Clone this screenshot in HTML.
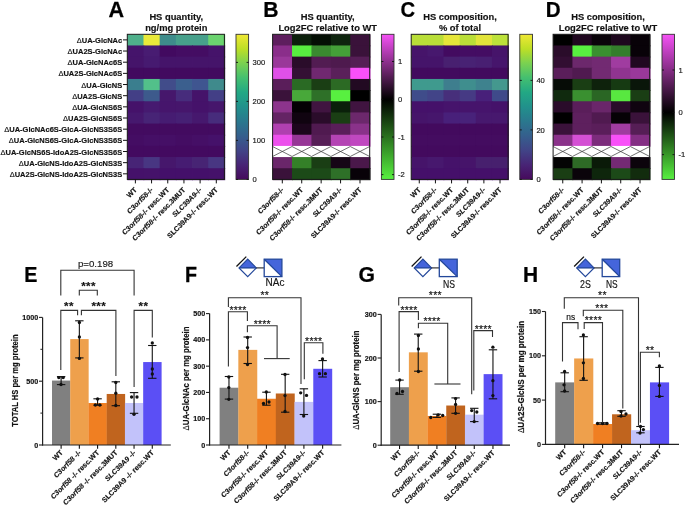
<!DOCTYPE html>
<html><head><meta charset="utf-8"><style>
html,body{margin:0;padding:0;background:#fff;}
body{width:685px;height:506px;overflow:hidden;}
svg{display:block;will-change:transform;}
svg text{font-family:"Liberation Sans", sans-serif;stroke:#151515;stroke-width:0.16px;}
</style></head><body>
<svg width="685" height="506" viewBox="0 0 685 506">
<rect x="0" y="0" width="685" height="506" fill="#fff"/>
<text transform="translate(108.6,16.7) scale(0.96,1)" font-size="22.5" font-weight="bold" fill="#000" style="stroke:#000;stroke-width:0.25px">A</text>
<text transform="translate(263.3,16.7) scale(0.94,1)" font-size="22.5" font-weight="bold" fill="#000" style="stroke:#000;stroke-width:0.25px">B</text>
<text transform="translate(400.4,16.7) scale(0.9,1)" font-size="22.5" font-weight="bold" fill="#000" style="stroke:#000;stroke-width:0.25px">C</text>
<text transform="translate(545.7,16.7) scale(0.915,1)" font-size="22.5" font-weight="bold" fill="#000" style="stroke:#000;stroke-width:0.25px">D</text>
<text transform="translate(24.3,281.8) scale(0.876,1)" font-size="22.5" font-weight="bold" fill="#000" style="stroke:#000;stroke-width:0.25px">E</text>
<text transform="translate(184.9,281.9) scale(0.875,1)" font-size="22.5" font-weight="bold" fill="#000" style="stroke:#000;stroke-width:0.25px">F</text>
<text transform="translate(358.5,281.7) scale(0.94,1)" font-size="22.5" font-weight="bold" fill="#000" style="stroke:#000;stroke-width:0.25px">G</text>
<text transform="translate(523.0,281.9) scale(0.93,1)" font-size="22.5" font-weight="bold" fill="#000" style="stroke:#000;stroke-width:0.25px">H</text>
<text x="176.30" y="20.30" font-size="9.35" font-weight="bold" font-style="normal" text-anchor="middle" fill="#111" >HS quantity,</text>
<text x="176.30" y="31.00" font-size="9.35" font-weight="bold" font-style="normal" text-anchor="middle" fill="#111" >ng/mg protein</text>
<text x="327.70" y="20.30" font-size="9.35" font-weight="bold" font-style="normal" text-anchor="middle" fill="#111" >HS quantity,</text>
<text x="327.70" y="31.00" font-size="9.35" font-weight="bold" font-style="normal" text-anchor="middle" fill="#111" >Log2FC relative to WT</text>
<text x="460.00" y="20.30" font-size="9.35" font-weight="bold" font-style="normal" text-anchor="middle" fill="#111" >HS composition,</text>
<text x="460.00" y="31.00" font-size="9.35" font-weight="bold" font-style="normal" text-anchor="middle" fill="#111" >% of total</text>
<text x="608.00" y="20.30" font-size="9.35" font-weight="bold" font-style="normal" text-anchor="middle" fill="#111" >HS composition,</text>
<text x="608.00" y="31.00" font-size="9.35" font-weight="bold" font-style="normal" text-anchor="middle" fill="#111" >Log2FC relative to WT</text>
<rect x="127.30" y="34.30" width="16.98" height="11.96" fill="#4fb08b" stroke="none" stroke-width="0"/>
<rect x="143.48" y="34.30" width="16.98" height="11.96" fill="#eaea3a" stroke="none" stroke-width="0"/>
<rect x="159.67" y="34.30" width="16.98" height="11.96" fill="#3e8c8b" stroke="none" stroke-width="0"/>
<rect x="175.85" y="34.30" width="16.98" height="11.96" fill="#47a08b" stroke="none" stroke-width="0"/>
<rect x="192.03" y="34.30" width="16.98" height="11.96" fill="#47a08b" stroke="none" stroke-width="0"/>
<rect x="208.22" y="34.30" width="16.98" height="11.96" fill="#6bd36f" stroke="none" stroke-width="0"/>
<rect x="127.30" y="45.46" width="16.98" height="11.96" fill="#45146b" stroke="none" stroke-width="0"/>
<rect x="143.48" y="45.46" width="16.98" height="11.96" fill="#481c72" stroke="none" stroke-width="0"/>
<rect x="159.67" y="45.46" width="16.98" height="11.96" fill="#420a60" stroke="none" stroke-width="0"/>
<rect x="175.85" y="45.46" width="16.98" height="11.96" fill="#440d63" stroke="none" stroke-width="0"/>
<rect x="192.03" y="45.46" width="16.98" height="11.96" fill="#440d63" stroke="none" stroke-width="0"/>
<rect x="208.22" y="45.46" width="16.98" height="11.96" fill="#45136a" stroke="none" stroke-width="0"/>
<rect x="127.30" y="56.62" width="16.98" height="11.96" fill="#45146a" stroke="none" stroke-width="0"/>
<rect x="143.48" y="56.62" width="16.98" height="11.96" fill="#461a70" stroke="none" stroke-width="0"/>
<rect x="159.67" y="56.62" width="16.98" height="11.96" fill="#45146a" stroke="none" stroke-width="0"/>
<rect x="175.85" y="56.62" width="16.98" height="11.96" fill="#45146a" stroke="none" stroke-width="0"/>
<rect x="192.03" y="56.62" width="16.98" height="11.96" fill="#45146a" stroke="none" stroke-width="0"/>
<rect x="208.22" y="56.62" width="16.98" height="11.96" fill="#45146a" stroke="none" stroke-width="0"/>
<rect x="127.30" y="67.78" width="16.98" height="11.96" fill="#420a5f" stroke="none" stroke-width="0"/>
<rect x="143.48" y="67.78" width="16.98" height="11.96" fill="#420a5f" stroke="none" stroke-width="0"/>
<rect x="159.67" y="67.78" width="16.98" height="11.96" fill="#420a5f" stroke="none" stroke-width="0"/>
<rect x="175.85" y="67.78" width="16.98" height="11.96" fill="#420a5f" stroke="none" stroke-width="0"/>
<rect x="192.03" y="67.78" width="16.98" height="11.96" fill="#420a5f" stroke="none" stroke-width="0"/>
<rect x="208.22" y="67.78" width="16.98" height="11.96" fill="#420a5f" stroke="none" stroke-width="0"/>
<rect x="127.30" y="78.95" width="16.98" height="11.96" fill="#3a7e8e" stroke="none" stroke-width="0"/>
<rect x="143.48" y="78.95" width="16.98" height="11.96" fill="#52c08a" stroke="none" stroke-width="0"/>
<rect x="159.67" y="78.95" width="16.98" height="11.96" fill="#414c8a" stroke="none" stroke-width="0"/>
<rect x="175.85" y="78.95" width="16.98" height="11.96" fill="#3b5f8e" stroke="none" stroke-width="0"/>
<rect x="192.03" y="78.95" width="16.98" height="11.96" fill="#3f5590" stroke="none" stroke-width="0"/>
<rect x="208.22" y="78.95" width="16.98" height="11.96" fill="#3f8a8c" stroke="none" stroke-width="0"/>
<rect x="127.30" y="90.11" width="16.98" height="11.96" fill="#433f86" stroke="none" stroke-width="0"/>
<rect x="143.48" y="90.11" width="16.98" height="11.96" fill="#3d5a8c" stroke="none" stroke-width="0"/>
<rect x="159.67" y="90.11" width="16.98" height="11.96" fill="#46176c" stroke="none" stroke-width="0"/>
<rect x="175.85" y="90.11" width="16.98" height="11.96" fill="#472c7c" stroke="none" stroke-width="0"/>
<rect x="192.03" y="90.11" width="16.98" height="11.96" fill="#45136a" stroke="none" stroke-width="0"/>
<rect x="208.22" y="90.11" width="16.98" height="11.96" fill="#433f86" stroke="none" stroke-width="0"/>
<rect x="127.30" y="101.27" width="16.98" height="11.96" fill="#45126a" stroke="none" stroke-width="0"/>
<rect x="143.48" y="101.27" width="16.98" height="11.96" fill="#461a70" stroke="none" stroke-width="0"/>
<rect x="159.67" y="101.27" width="16.98" height="11.96" fill="#46156c" stroke="none" stroke-width="0"/>
<rect x="175.85" y="101.27" width="16.98" height="11.96" fill="#46166c" stroke="none" stroke-width="0"/>
<rect x="192.03" y="101.27" width="16.98" height="11.96" fill="#45126a" stroke="none" stroke-width="0"/>
<rect x="208.22" y="101.27" width="16.98" height="11.96" fill="#46166c" stroke="none" stroke-width="0"/>
<rect x="127.30" y="112.43" width="16.98" height="11.96" fill="#46186e" stroke="none" stroke-width="0"/>
<rect x="143.48" y="112.43" width="16.98" height="11.96" fill="#472476" stroke="none" stroke-width="0"/>
<rect x="159.67" y="112.43" width="16.98" height="11.96" fill="#461c72" stroke="none" stroke-width="0"/>
<rect x="175.85" y="112.43" width="16.98" height="11.96" fill="#462074" stroke="none" stroke-width="0"/>
<rect x="192.03" y="112.43" width="16.98" height="11.96" fill="#46186e" stroke="none" stroke-width="0"/>
<rect x="208.22" y="112.43" width="16.98" height="11.96" fill="#472c7c" stroke="none" stroke-width="0"/>
<rect x="127.30" y="123.59" width="16.98" height="11.96" fill="#430b60" stroke="none" stroke-width="0"/>
<rect x="143.48" y="123.59" width="16.98" height="11.96" fill="#430b60" stroke="none" stroke-width="0"/>
<rect x="159.67" y="123.59" width="16.98" height="11.96" fill="#430b60" stroke="none" stroke-width="0"/>
<rect x="175.85" y="123.59" width="16.98" height="11.96" fill="#430b60" stroke="none" stroke-width="0"/>
<rect x="192.03" y="123.59" width="16.98" height="11.96" fill="#430b60" stroke="none" stroke-width="0"/>
<rect x="208.22" y="123.59" width="16.98" height="11.96" fill="#430b60" stroke="none" stroke-width="0"/>
<rect x="127.30" y="134.75" width="16.98" height="11.96" fill="#440d63" stroke="none" stroke-width="0"/>
<rect x="143.48" y="134.75" width="16.98" height="11.96" fill="#450f66" stroke="none" stroke-width="0"/>
<rect x="159.67" y="134.75" width="16.98" height="11.96" fill="#450f66" stroke="none" stroke-width="0"/>
<rect x="175.85" y="134.75" width="16.98" height="11.96" fill="#440d63" stroke="none" stroke-width="0"/>
<rect x="192.03" y="134.75" width="16.98" height="11.96" fill="#450f66" stroke="none" stroke-width="0"/>
<rect x="208.22" y="134.75" width="16.98" height="11.96" fill="#45116a" stroke="none" stroke-width="0"/>
<rect x="127.30" y="145.92" width="16.98" height="11.96" fill="#430a60" stroke="none" stroke-width="0"/>
<rect x="143.48" y="145.92" width="16.98" height="11.96" fill="#430a60" stroke="none" stroke-width="0"/>
<rect x="159.67" y="145.92" width="16.98" height="11.96" fill="#430a60" stroke="none" stroke-width="0"/>
<rect x="175.85" y="145.92" width="16.98" height="11.96" fill="#430a60" stroke="none" stroke-width="0"/>
<rect x="192.03" y="145.92" width="16.98" height="11.96" fill="#430a60" stroke="none" stroke-width="0"/>
<rect x="208.22" y="145.92" width="16.98" height="11.96" fill="#430a60" stroke="none" stroke-width="0"/>
<rect x="127.30" y="157.08" width="16.98" height="11.96" fill="#472476" stroke="none" stroke-width="0"/>
<rect x="143.48" y="157.08" width="16.98" height="11.96" fill="#483682" stroke="none" stroke-width="0"/>
<rect x="159.67" y="157.08" width="16.98" height="11.96" fill="#46176c" stroke="none" stroke-width="0"/>
<rect x="175.85" y="157.08" width="16.98" height="11.96" fill="#461c72" stroke="none" stroke-width="0"/>
<rect x="192.03" y="157.08" width="16.98" height="11.96" fill="#472474" stroke="none" stroke-width="0"/>
<rect x="208.22" y="157.08" width="16.98" height="11.96" fill="#483682" stroke="none" stroke-width="0"/>
<rect x="127.30" y="168.24" width="16.98" height="11.96" fill="#45116a" stroke="none" stroke-width="0"/>
<rect x="143.48" y="168.24" width="16.98" height="11.96" fill="#45126a" stroke="none" stroke-width="0"/>
<rect x="159.67" y="168.24" width="16.98" height="11.96" fill="#44106a" stroke="none" stroke-width="0"/>
<rect x="175.85" y="168.24" width="16.98" height="11.96" fill="#44106a" stroke="none" stroke-width="0"/>
<rect x="192.03" y="168.24" width="16.98" height="11.96" fill="#44106a" stroke="none" stroke-width="0"/>
<rect x="208.22" y="168.24" width="16.98" height="11.96" fill="#45116a" stroke="none" stroke-width="0"/>
<rect x="127.30" y="34.30" width="97.10" height="145.10" fill="none" stroke="#1a1a1a" stroke-width="1"/>
<line x1="135.39" y1="179.40" x2="135.39" y2="183.40" stroke="#111" stroke-width="1.0"/>
<text transform="translate(137.39,190.40) rotate(-45)" font-size="7.2" font-weight="bold" text-anchor="end" fill="#111">WT</text>
<line x1="151.57" y1="179.40" x2="151.57" y2="183.40" stroke="#111" stroke-width="1.0"/>
<text transform="translate(153.57,190.40) rotate(-45)" font-size="7.2" font-weight="bold" text-anchor="end" fill="#111"><tspan font-style="italic">C3orf58</tspan>-/-</text>
<line x1="167.76" y1="179.40" x2="167.76" y2="183.40" stroke="#111" stroke-width="1.0"/>
<text transform="translate(169.76,190.40) rotate(-45)" font-size="7.2" font-weight="bold" text-anchor="end" fill="#111"><tspan font-style="italic">C3orf58</tspan>-/- resc.WT</text>
<line x1="183.94" y1="179.40" x2="183.94" y2="183.40" stroke="#111" stroke-width="1.0"/>
<text transform="translate(185.94,190.40) rotate(-45)" font-size="7.2" font-weight="bold" text-anchor="end" fill="#111"><tspan font-style="italic">C3orf58</tspan>-/- resc.3MUT</text>
<line x1="200.12" y1="179.40" x2="200.12" y2="183.40" stroke="#111" stroke-width="1.0"/>
<text transform="translate(202.12,190.40) rotate(-45)" font-size="7.2" font-weight="bold" text-anchor="end" fill="#111"><tspan font-style="italic">SLC39A9</tspan>-/-</text>
<line x1="216.31" y1="179.40" x2="216.31" y2="183.40" stroke="#111" stroke-width="1.0"/>
<text transform="translate(218.31,190.40) rotate(-45)" font-size="7.2" font-weight="bold" text-anchor="end" fill="#111">SLC39A9-/- resc.WT</text>
<rect x="272.60" y="34.30" width="20.22" height="11.96" fill="#5e1e5e" stroke="none" stroke-width="0"/>
<rect x="292.02" y="34.30" width="20.22" height="11.96" fill="#0c200c" stroke="none" stroke-width="0"/>
<rect x="311.44" y="34.30" width="20.22" height="11.96" fill="#040e04" stroke="none" stroke-width="0"/>
<rect x="330.86" y="34.30" width="20.22" height="11.96" fill="#0e240e" stroke="none" stroke-width="0"/>
<rect x="350.28" y="34.30" width="20.22" height="11.96" fill="#3a123a" stroke="none" stroke-width="0"/>
<rect x="272.60" y="45.46" width="20.22" height="11.96" fill="#8a2e8a" stroke="none" stroke-width="0"/>
<rect x="292.02" y="45.46" width="20.22" height="11.96" fill="#58ee40" stroke="none" stroke-width="0"/>
<rect x="311.44" y="45.46" width="20.22" height="11.96" fill="#3a8a30" stroke="none" stroke-width="0"/>
<rect x="330.86" y="45.46" width="20.22" height="11.96" fill="#44a038" stroke="none" stroke-width="0"/>
<rect x="350.28" y="45.46" width="20.22" height="11.96" fill="#3a123a" stroke="none" stroke-width="0"/>
<rect x="272.60" y="56.62" width="20.22" height="11.96" fill="#9a389a" stroke="none" stroke-width="0"/>
<rect x="292.02" y="56.62" width="20.22" height="11.96" fill="#2a0c2a" stroke="none" stroke-width="0"/>
<rect x="311.44" y="56.62" width="20.22" height="11.96" fill="#521c52" stroke="none" stroke-width="0"/>
<rect x="330.86" y="56.62" width="20.22" height="11.96" fill="#4e1a4e" stroke="none" stroke-width="0"/>
<rect x="350.28" y="56.62" width="20.22" height="11.96" fill="#561e56" stroke="none" stroke-width="0"/>
<rect x="272.60" y="67.78" width="20.22" height="11.96" fill="#e050e8" stroke="none" stroke-width="0"/>
<rect x="292.02" y="67.78" width="20.22" height="11.96" fill="#341034" stroke="none" stroke-width="0"/>
<rect x="311.44" y="67.78" width="20.22" height="11.96" fill="#702870" stroke="none" stroke-width="0"/>
<rect x="330.86" y="67.78" width="20.22" height="11.96" fill="#5a205a" stroke="none" stroke-width="0"/>
<rect x="350.28" y="67.78" width="20.22" height="11.96" fill="#f850f8" stroke="none" stroke-width="0"/>
<rect x="272.60" y="78.95" width="20.22" height="11.96" fill="#5a1e5a" stroke="none" stroke-width="0"/>
<rect x="292.02" y="78.95" width="20.22" height="11.96" fill="#2a6a24" stroke="none" stroke-width="0"/>
<rect x="311.44" y="78.95" width="20.22" height="11.96" fill="#1a3e14" stroke="none" stroke-width="0"/>
<rect x="330.86" y="78.95" width="20.22" height="11.96" fill="#2c6a24" stroke="none" stroke-width="0"/>
<rect x="350.28" y="78.95" width="20.22" height="11.96" fill="#220a22" stroke="none" stroke-width="0"/>
<rect x="272.60" y="90.11" width="20.22" height="11.96" fill="#3a123a" stroke="none" stroke-width="0"/>
<rect x="292.02" y="90.11" width="20.22" height="11.96" fill="#48a83a" stroke="none" stroke-width="0"/>
<rect x="311.44" y="90.11" width="20.22" height="11.96" fill="#2e7028" stroke="none" stroke-width="0"/>
<rect x="330.86" y="90.11" width="20.22" height="11.96" fill="#58f040" stroke="none" stroke-width="0"/>
<rect x="350.28" y="90.11" width="20.22" height="11.96" fill="#000000" stroke="none" stroke-width="0"/>
<rect x="272.60" y="101.27" width="20.22" height="11.96" fill="#8c348c" stroke="none" stroke-width="0"/>
<rect x="292.02" y="101.27" width="20.22" height="11.96" fill="#040004" stroke="none" stroke-width="0"/>
<rect x="311.44" y="101.27" width="20.22" height="11.96" fill="#401440" stroke="none" stroke-width="0"/>
<rect x="330.86" y="101.27" width="20.22" height="11.96" fill="#0a200a" stroke="none" stroke-width="0"/>
<rect x="350.28" y="101.27" width="20.22" height="11.96" fill="#401440" stroke="none" stroke-width="0"/>
<rect x="272.60" y="112.43" width="20.22" height="11.96" fill="#642464" stroke="none" stroke-width="0"/>
<rect x="292.02" y="112.43" width="20.22" height="11.96" fill="#100410" stroke="none" stroke-width="0"/>
<rect x="311.44" y="112.43" width="20.22" height="11.96" fill="#2a0c2a" stroke="none" stroke-width="0"/>
<rect x="330.86" y="112.43" width="20.22" height="11.96" fill="#1a3e14" stroke="none" stroke-width="0"/>
<rect x="350.28" y="112.43" width="20.22" height="11.96" fill="#6c286c" stroke="none" stroke-width="0"/>
<rect x="272.60" y="123.59" width="20.22" height="11.96" fill="#b040b0" stroke="none" stroke-width="0"/>
<rect x="292.02" y="123.59" width="20.22" height="11.96" fill="#1c061c" stroke="none" stroke-width="0"/>
<rect x="311.44" y="123.59" width="20.22" height="11.96" fill="#501a50" stroke="none" stroke-width="0"/>
<rect x="330.86" y="123.59" width="20.22" height="11.96" fill="#5a1e5a" stroke="none" stroke-width="0"/>
<rect x="350.28" y="123.59" width="20.22" height="11.96" fill="#8a328a" stroke="none" stroke-width="0"/>
<rect x="272.60" y="134.75" width="20.22" height="11.96" fill="#ec50ec" stroke="none" stroke-width="0"/>
<rect x="292.02" y="134.75" width="20.22" height="11.96" fill="#963696" stroke="none" stroke-width="0"/>
<rect x="311.44" y="134.75" width="20.22" height="11.96" fill="#561e56" stroke="none" stroke-width="0"/>
<rect x="330.86" y="134.75" width="20.22" height="11.96" fill="#b444b4" stroke="none" stroke-width="0"/>
<rect x="350.28" y="134.75" width="20.22" height="11.96" fill="#c048c0" stroke="none" stroke-width="0"/>
<rect x="272.60" y="145.92" width="97.10" height="11.16" fill="#ffffff" stroke="none" stroke-width="0"/>
<line x1="272.60" y1="146.52" x2="292.02" y2="156.48" stroke="#333" stroke-width="0.7"/>
<line x1="272.60" y1="156.48" x2="292.02" y2="146.52" stroke="#333" stroke-width="0.7"/>
<line x1="292.02" y1="146.52" x2="311.44" y2="156.48" stroke="#333" stroke-width="0.7"/>
<line x1="292.02" y1="156.48" x2="311.44" y2="146.52" stroke="#333" stroke-width="0.7"/>
<line x1="311.44" y1="146.52" x2="330.86" y2="156.48" stroke="#333" stroke-width="0.7"/>
<line x1="311.44" y1="156.48" x2="330.86" y2="146.52" stroke="#333" stroke-width="0.7"/>
<line x1="330.86" y1="146.52" x2="350.28" y2="156.48" stroke="#333" stroke-width="0.7"/>
<line x1="330.86" y1="156.48" x2="350.28" y2="146.52" stroke="#333" stroke-width="0.7"/>
<line x1="350.28" y1="146.52" x2="369.70" y2="156.48" stroke="#333" stroke-width="0.7"/>
<line x1="350.28" y1="156.48" x2="369.70" y2="146.52" stroke="#333" stroke-width="0.7"/>
<rect x="272.60" y="157.08" width="20.22" height="11.96" fill="#6a266a" stroke="none" stroke-width="0"/>
<rect x="292.02" y="157.08" width="20.22" height="11.96" fill="#348028" stroke="none" stroke-width="0"/>
<rect x="311.44" y="157.08" width="20.22" height="11.96" fill="#1a3e14" stroke="none" stroke-width="0"/>
<rect x="330.86" y="157.08" width="20.22" height="11.96" fill="#160616" stroke="none" stroke-width="0"/>
<rect x="350.28" y="157.08" width="20.22" height="11.96" fill="#4a184a" stroke="none" stroke-width="0"/>
<rect x="272.60" y="168.24" width="20.22" height="11.96" fill="#3a123a" stroke="none" stroke-width="0"/>
<rect x="292.02" y="168.24" width="20.22" height="11.96" fill="#1c4a18" stroke="none" stroke-width="0"/>
<rect x="311.44" y="168.24" width="20.22" height="11.96" fill="#1c4a18" stroke="none" stroke-width="0"/>
<rect x="330.86" y="168.24" width="20.22" height="11.96" fill="#2e7028" stroke="none" stroke-width="0"/>
<rect x="350.28" y="168.24" width="20.22" height="11.96" fill="#080208" stroke="none" stroke-width="0"/>
<rect x="272.60" y="34.30" width="97.10" height="145.10" fill="none" stroke="#1a1a1a" stroke-width="1"/>
<line x1="282.31" y1="179.40" x2="282.31" y2="183.40" stroke="#111" stroke-width="1.0"/>
<text transform="translate(284.31,190.40) rotate(-45)" font-size="7.2" font-weight="bold" text-anchor="end" fill="#111"><tspan font-style="italic">C3orf58</tspan>-/-</text>
<line x1="301.73" y1="179.40" x2="301.73" y2="183.40" stroke="#111" stroke-width="1.0"/>
<text transform="translate(303.73,190.40) rotate(-45)" font-size="7.2" font-weight="bold" text-anchor="end" fill="#111"><tspan font-style="italic">C3orf58</tspan>-/- resc.WT</text>
<line x1="321.15" y1="179.40" x2="321.15" y2="183.40" stroke="#111" stroke-width="1.0"/>
<text transform="translate(323.15,190.40) rotate(-45)" font-size="7.2" font-weight="bold" text-anchor="end" fill="#111"><tspan font-style="italic">C3orf58</tspan>-/- resc.3MUT</text>
<line x1="340.57" y1="179.40" x2="340.57" y2="183.40" stroke="#111" stroke-width="1.0"/>
<text transform="translate(342.57,190.40) rotate(-45)" font-size="7.2" font-weight="bold" text-anchor="end" fill="#111"><tspan font-style="italic">SLC39A9</tspan>-/-</text>
<line x1="359.99" y1="179.40" x2="359.99" y2="183.40" stroke="#111" stroke-width="1.0"/>
<text transform="translate(361.99,190.40) rotate(-45)" font-size="7.2" font-weight="bold" text-anchor="end" fill="#111">SLC39A9-/- resc.WT</text>
<rect x="411.20" y="34.30" width="16.95" height="11.96" fill="#b9de38" stroke="none" stroke-width="0"/>
<rect x="427.35" y="34.30" width="16.95" height="11.96" fill="#b9de38" stroke="none" stroke-width="0"/>
<rect x="443.50" y="34.30" width="16.95" height="11.96" fill="#e6e639" stroke="none" stroke-width="0"/>
<rect x="459.65" y="34.30" width="16.95" height="11.96" fill="#bade38" stroke="none" stroke-width="0"/>
<rect x="475.80" y="34.30" width="16.95" height="11.96" fill="#e2e43a" stroke="none" stroke-width="0"/>
<rect x="491.95" y="34.30" width="16.95" height="11.96" fill="#bde23a" stroke="none" stroke-width="0"/>
<rect x="411.20" y="45.46" width="16.95" height="11.96" fill="#46146a" stroke="none" stroke-width="0"/>
<rect x="427.35" y="45.46" width="16.95" height="11.96" fill="#47186e" stroke="none" stroke-width="0"/>
<rect x="443.50" y="45.46" width="16.95" height="11.96" fill="#430b60" stroke="none" stroke-width="0"/>
<rect x="459.65" y="45.46" width="16.95" height="11.96" fill="#440d63" stroke="none" stroke-width="0"/>
<rect x="475.80" y="45.46" width="16.95" height="11.96" fill="#440d63" stroke="none" stroke-width="0"/>
<rect x="491.95" y="45.46" width="16.95" height="11.96" fill="#46146a" stroke="none" stroke-width="0"/>
<rect x="411.20" y="56.62" width="16.95" height="11.96" fill="#45146a" stroke="none" stroke-width="0"/>
<rect x="427.35" y="56.62" width="16.95" height="11.96" fill="#45146a" stroke="none" stroke-width="0"/>
<rect x="443.50" y="56.62" width="16.95" height="11.96" fill="#482070" stroke="none" stroke-width="0"/>
<rect x="459.65" y="56.62" width="16.95" height="11.96" fill="#482274" stroke="none" stroke-width="0"/>
<rect x="475.80" y="56.62" width="16.95" height="11.96" fill="#481f72" stroke="none" stroke-width="0"/>
<rect x="491.95" y="56.62" width="16.95" height="11.96" fill="#46156c" stroke="none" stroke-width="0"/>
<rect x="411.20" y="67.78" width="16.95" height="11.96" fill="#420a5e" stroke="none" stroke-width="0"/>
<rect x="427.35" y="67.78" width="16.95" height="11.96" fill="#420a5e" stroke="none" stroke-width="0"/>
<rect x="443.50" y="67.78" width="16.95" height="11.96" fill="#420a5e" stroke="none" stroke-width="0"/>
<rect x="459.65" y="67.78" width="16.95" height="11.96" fill="#420a5e" stroke="none" stroke-width="0"/>
<rect x="475.80" y="67.78" width="16.95" height="11.96" fill="#420a5e" stroke="none" stroke-width="0"/>
<rect x="491.95" y="67.78" width="16.95" height="11.96" fill="#420a5e" stroke="none" stroke-width="0"/>
<rect x="411.20" y="78.95" width="16.95" height="11.96" fill="#3f9a8e" stroke="none" stroke-width="0"/>
<rect x="427.35" y="78.95" width="16.95" height="11.96" fill="#3f9a8e" stroke="none" stroke-width="0"/>
<rect x="443.50" y="78.95" width="16.95" height="11.96" fill="#3e7e8e" stroke="none" stroke-width="0"/>
<rect x="459.65" y="78.95" width="16.95" height="11.96" fill="#3f8e8e" stroke="none" stroke-width="0"/>
<rect x="475.80" y="78.95" width="16.95" height="11.96" fill="#3e828e" stroke="none" stroke-width="0"/>
<rect x="491.95" y="78.95" width="16.95" height="11.96" fill="#44988e" stroke="none" stroke-width="0"/>
<rect x="411.20" y="90.11" width="16.95" height="11.96" fill="#3f4c8a" stroke="none" stroke-width="0"/>
<rect x="427.35" y="90.11" width="16.95" height="11.96" fill="#424488" stroke="none" stroke-width="0"/>
<rect x="443.50" y="90.11" width="16.95" height="11.96" fill="#472f7b" stroke="none" stroke-width="0"/>
<rect x="459.65" y="90.11" width="16.95" height="11.96" fill="#463a84" stroke="none" stroke-width="0"/>
<rect x="475.80" y="90.11" width="16.95" height="11.96" fill="#48207a" stroke="none" stroke-width="0"/>
<rect x="491.95" y="90.11" width="16.95" height="11.96" fill="#3f4a8a" stroke="none" stroke-width="0"/>
<rect x="411.20" y="101.27" width="16.95" height="11.96" fill="#45116a" stroke="none" stroke-width="0"/>
<rect x="427.35" y="101.27" width="16.95" height="11.96" fill="#45116a" stroke="none" stroke-width="0"/>
<rect x="443.50" y="101.27" width="16.95" height="11.96" fill="#46146c" stroke="none" stroke-width="0"/>
<rect x="459.65" y="101.27" width="16.95" height="11.96" fill="#46146c" stroke="none" stroke-width="0"/>
<rect x="475.80" y="101.27" width="16.95" height="11.96" fill="#46146c" stroke="none" stroke-width="0"/>
<rect x="491.95" y="101.27" width="16.95" height="11.96" fill="#45126a" stroke="none" stroke-width="0"/>
<rect x="411.20" y="112.43" width="16.95" height="11.96" fill="#46146a" stroke="none" stroke-width="0"/>
<rect x="427.35" y="112.43" width="16.95" height="11.96" fill="#46166c" stroke="none" stroke-width="0"/>
<rect x="443.50" y="112.43" width="16.95" height="11.96" fill="#48207a" stroke="none" stroke-width="0"/>
<rect x="459.65" y="112.43" width="16.95" height="11.96" fill="#48227a" stroke="none" stroke-width="0"/>
<rect x="475.80" y="112.43" width="16.95" height="11.96" fill="#47186e" stroke="none" stroke-width="0"/>
<rect x="491.95" y="112.43" width="16.95" height="11.96" fill="#47186e" stroke="none" stroke-width="0"/>
<rect x="411.20" y="123.59" width="16.95" height="11.96" fill="#430a5e" stroke="none" stroke-width="0"/>
<rect x="427.35" y="123.59" width="16.95" height="11.96" fill="#430a5e" stroke="none" stroke-width="0"/>
<rect x="443.50" y="123.59" width="16.95" height="11.96" fill="#430a5e" stroke="none" stroke-width="0"/>
<rect x="459.65" y="123.59" width="16.95" height="11.96" fill="#430a5e" stroke="none" stroke-width="0"/>
<rect x="475.80" y="123.59" width="16.95" height="11.96" fill="#430a5e" stroke="none" stroke-width="0"/>
<rect x="491.95" y="123.59" width="16.95" height="11.96" fill="#430a5e" stroke="none" stroke-width="0"/>
<rect x="411.20" y="134.75" width="16.95" height="11.96" fill="#440c60" stroke="none" stroke-width="0"/>
<rect x="427.35" y="134.75" width="16.95" height="11.96" fill="#440c60" stroke="none" stroke-width="0"/>
<rect x="443.50" y="134.75" width="16.95" height="11.96" fill="#440c60" stroke="none" stroke-width="0"/>
<rect x="459.65" y="134.75" width="16.95" height="11.96" fill="#440c60" stroke="none" stroke-width="0"/>
<rect x="475.80" y="134.75" width="16.95" height="11.96" fill="#440c60" stroke="none" stroke-width="0"/>
<rect x="491.95" y="134.75" width="16.95" height="11.96" fill="#440c60" stroke="none" stroke-width="0"/>
<rect x="411.20" y="145.92" width="16.95" height="11.96" fill="#430a5e" stroke="none" stroke-width="0"/>
<rect x="427.35" y="145.92" width="16.95" height="11.96" fill="#430a5e" stroke="none" stroke-width="0"/>
<rect x="443.50" y="145.92" width="16.95" height="11.96" fill="#430a5e" stroke="none" stroke-width="0"/>
<rect x="459.65" y="145.92" width="16.95" height="11.96" fill="#430a5e" stroke="none" stroke-width="0"/>
<rect x="475.80" y="145.92" width="16.95" height="11.96" fill="#430a5e" stroke="none" stroke-width="0"/>
<rect x="491.95" y="145.92" width="16.95" height="11.96" fill="#430a5e" stroke="none" stroke-width="0"/>
<rect x="411.20" y="157.08" width="16.95" height="11.96" fill="#46146a" stroke="none" stroke-width="0"/>
<rect x="427.35" y="157.08" width="16.95" height="11.96" fill="#47186e" stroke="none" stroke-width="0"/>
<rect x="443.50" y="157.08" width="16.95" height="11.96" fill="#45126a" stroke="none" stroke-width="0"/>
<rect x="459.65" y="157.08" width="16.95" height="11.96" fill="#46146a" stroke="none" stroke-width="0"/>
<rect x="475.80" y="157.08" width="16.95" height="11.96" fill="#47206e" stroke="none" stroke-width="0"/>
<rect x="491.95" y="157.08" width="16.95" height="11.96" fill="#47206e" stroke="none" stroke-width="0"/>
<rect x="411.20" y="168.24" width="16.95" height="11.96" fill="#45106a" stroke="none" stroke-width="0"/>
<rect x="427.35" y="168.24" width="16.95" height="11.96" fill="#45106a" stroke="none" stroke-width="0"/>
<rect x="443.50" y="168.24" width="16.95" height="11.96" fill="#45106a" stroke="none" stroke-width="0"/>
<rect x="459.65" y="168.24" width="16.95" height="11.96" fill="#45106a" stroke="none" stroke-width="0"/>
<rect x="475.80" y="168.24" width="16.95" height="11.96" fill="#45106a" stroke="none" stroke-width="0"/>
<rect x="491.95" y="168.24" width="16.95" height="11.96" fill="#45106a" stroke="none" stroke-width="0"/>
<rect x="411.20" y="34.30" width="96.90" height="145.10" fill="none" stroke="#1a1a1a" stroke-width="1"/>
<line x1="419.27" y1="179.40" x2="419.27" y2="183.40" stroke="#111" stroke-width="1.0"/>
<text transform="translate(421.27,190.40) rotate(-45)" font-size="7.2" font-weight="bold" text-anchor="end" fill="#111">WT</text>
<line x1="435.43" y1="179.40" x2="435.43" y2="183.40" stroke="#111" stroke-width="1.0"/>
<text transform="translate(437.43,190.40) rotate(-45)" font-size="7.2" font-weight="bold" text-anchor="end" fill="#111"><tspan font-style="italic">C3orf58</tspan>-/-</text>
<line x1="451.57" y1="179.40" x2="451.57" y2="183.40" stroke="#111" stroke-width="1.0"/>
<text transform="translate(453.57,190.40) rotate(-45)" font-size="7.2" font-weight="bold" text-anchor="end" fill="#111"><tspan font-style="italic">C3orf58</tspan>-/- resc.WT</text>
<line x1="467.73" y1="179.40" x2="467.73" y2="183.40" stroke="#111" stroke-width="1.0"/>
<text transform="translate(469.73,190.40) rotate(-45)" font-size="7.2" font-weight="bold" text-anchor="end" fill="#111"><tspan font-style="italic">C3orf58</tspan>-/- resc.3MUT</text>
<line x1="483.88" y1="179.40" x2="483.88" y2="183.40" stroke="#111" stroke-width="1.0"/>
<text transform="translate(485.88,190.40) rotate(-45)" font-size="7.2" font-weight="bold" text-anchor="end" fill="#111"><tspan font-style="italic">SLC39A9</tspan>-/-</text>
<line x1="500.03" y1="179.40" x2="500.03" y2="183.40" stroke="#111" stroke-width="1.0"/>
<text transform="translate(502.03,190.40) rotate(-45)" font-size="7.2" font-weight="bold" text-anchor="end" fill="#111">SLC39A9-/- resc.WT</text>
<rect x="553.10" y="34.30" width="20.12" height="11.96" fill="#000000" stroke="none" stroke-width="0"/>
<rect x="572.42" y="34.30" width="20.12" height="11.96" fill="#200820" stroke="none" stroke-width="0"/>
<rect x="591.74" y="34.30" width="20.12" height="11.96" fill="#0a040a" stroke="none" stroke-width="0"/>
<rect x="611.06" y="34.30" width="20.12" height="11.96" fill="#1e081e" stroke="none" stroke-width="0"/>
<rect x="630.38" y="34.30" width="20.12" height="11.96" fill="#080208" stroke="none" stroke-width="0"/>
<rect x="553.10" y="45.46" width="20.12" height="11.96" fill="#2a0c2a" stroke="none" stroke-width="0"/>
<rect x="572.42" y="45.46" width="20.12" height="11.96" fill="#58f040" stroke="none" stroke-width="0"/>
<rect x="591.74" y="45.46" width="20.12" height="11.96" fill="#3a9030" stroke="none" stroke-width="0"/>
<rect x="611.06" y="45.46" width="20.12" height="11.96" fill="#347e2c" stroke="none" stroke-width="0"/>
<rect x="630.38" y="45.46" width="20.12" height="11.96" fill="#080208" stroke="none" stroke-width="0"/>
<rect x="553.10" y="56.62" width="20.12" height="11.96" fill="#320e32" stroke="none" stroke-width="0"/>
<rect x="572.42" y="56.62" width="20.12" height="11.96" fill="#6c286c" stroke="none" stroke-width="0"/>
<rect x="591.74" y="56.62" width="20.12" height="11.96" fill="#722a72" stroke="none" stroke-width="0"/>
<rect x="611.06" y="56.62" width="20.12" height="11.96" fill="#a03ca0" stroke="none" stroke-width="0"/>
<rect x="630.38" y="56.62" width="20.12" height="11.96" fill="#200820" stroke="none" stroke-width="0"/>
<rect x="553.10" y="67.78" width="20.12" height="11.96" fill="#5a1e5a" stroke="none" stroke-width="0"/>
<rect x="572.42" y="67.78" width="20.12" height="11.96" fill="#501a50" stroke="none" stroke-width="0"/>
<rect x="591.74" y="67.78" width="20.12" height="11.96" fill="#722a72" stroke="none" stroke-width="0"/>
<rect x="611.06" y="67.78" width="20.12" height="11.96" fill="#903490" stroke="none" stroke-width="0"/>
<rect x="630.38" y="67.78" width="20.12" height="11.96" fill="#9a389a" stroke="none" stroke-width="0"/>
<rect x="553.10" y="78.95" width="20.12" height="11.96" fill="#060c06" stroke="none" stroke-width="0"/>
<rect x="572.42" y="78.95" width="20.12" height="11.96" fill="#1a3e14" stroke="none" stroke-width="0"/>
<rect x="591.74" y="78.95" width="20.12" height="11.96" fill="#0e220c" stroke="none" stroke-width="0"/>
<rect x="611.06" y="78.95" width="20.12" height="11.96" fill="#163a12" stroke="none" stroke-width="0"/>
<rect x="630.38" y="78.95" width="20.12" height="11.96" fill="#0a160a" stroke="none" stroke-width="0"/>
<rect x="553.10" y="90.11" width="20.12" height="11.96" fill="#102a0e" stroke="none" stroke-width="0"/>
<rect x="572.42" y="90.11" width="20.12" height="11.96" fill="#3a9030" stroke="none" stroke-width="0"/>
<rect x="591.74" y="90.11" width="20.12" height="11.96" fill="#2a6624" stroke="none" stroke-width="0"/>
<rect x="611.06" y="90.11" width="20.12" height="11.96" fill="#58e840" stroke="none" stroke-width="0"/>
<rect x="630.38" y="90.11" width="20.12" height="11.96" fill="#1a3e14" stroke="none" stroke-width="0"/>
<rect x="553.10" y="101.27" width="20.12" height="11.96" fill="#2a0c2a" stroke="none" stroke-width="0"/>
<rect x="572.42" y="101.27" width="20.12" height="11.96" fill="#5a1e5a" stroke="none" stroke-width="0"/>
<rect x="591.74" y="101.27" width="20.12" height="11.96" fill="#6a266a" stroke="none" stroke-width="0"/>
<rect x="611.06" y="101.27" width="20.12" height="11.96" fill="#2a0c2a" stroke="none" stroke-width="0"/>
<rect x="630.38" y="101.27" width="20.12" height="11.96" fill="#100410" stroke="none" stroke-width="0"/>
<rect x="553.10" y="112.43" width="20.12" height="11.96" fill="#000000" stroke="none" stroke-width="0"/>
<rect x="572.42" y="112.43" width="20.12" height="11.96" fill="#5e205e" stroke="none" stroke-width="0"/>
<rect x="591.74" y="112.43" width="20.12" height="11.96" fill="#501a50" stroke="none" stroke-width="0"/>
<rect x="611.06" y="112.43" width="20.12" height="11.96" fill="#060206" stroke="none" stroke-width="0"/>
<rect x="630.38" y="112.43" width="20.12" height="11.96" fill="#3a123a" stroke="none" stroke-width="0"/>
<rect x="553.10" y="123.59" width="20.12" height="11.96" fill="#3a123a" stroke="none" stroke-width="0"/>
<rect x="572.42" y="123.59" width="20.12" height="11.96" fill="#5e205e" stroke="none" stroke-width="0"/>
<rect x="591.74" y="123.59" width="20.12" height="11.96" fill="#5a1e5a" stroke="none" stroke-width="0"/>
<rect x="611.06" y="123.59" width="20.12" height="11.96" fill="#a03ca0" stroke="none" stroke-width="0"/>
<rect x="630.38" y="123.59" width="20.12" height="11.96" fill="#561e56" stroke="none" stroke-width="0"/>
<rect x="553.10" y="134.75" width="20.12" height="11.96" fill="#8a328a" stroke="none" stroke-width="0"/>
<rect x="572.42" y="134.75" width="20.12" height="11.96" fill="#d450d4" stroke="none" stroke-width="0"/>
<rect x="591.74" y="134.75" width="20.12" height="11.96" fill="#7c2c7c" stroke="none" stroke-width="0"/>
<rect x="611.06" y="134.75" width="20.12" height="11.96" fill="#f850f8" stroke="none" stroke-width="0"/>
<rect x="630.38" y="134.75" width="20.12" height="11.96" fill="#842e84" stroke="none" stroke-width="0"/>
<rect x="553.10" y="145.92" width="96.60" height="11.16" fill="#ffffff" stroke="none" stroke-width="0"/>
<line x1="553.10" y1="146.52" x2="572.42" y2="156.48" stroke="#333" stroke-width="0.7"/>
<line x1="553.10" y1="156.48" x2="572.42" y2="146.52" stroke="#333" stroke-width="0.7"/>
<line x1="572.42" y1="146.52" x2="591.74" y2="156.48" stroke="#333" stroke-width="0.7"/>
<line x1="572.42" y1="156.48" x2="591.74" y2="146.52" stroke="#333" stroke-width="0.7"/>
<line x1="591.74" y1="146.52" x2="611.06" y2="156.48" stroke="#333" stroke-width="0.7"/>
<line x1="591.74" y1="156.48" x2="611.06" y2="146.52" stroke="#333" stroke-width="0.7"/>
<line x1="611.06" y1="146.52" x2="630.38" y2="156.48" stroke="#333" stroke-width="0.7"/>
<line x1="611.06" y1="156.48" x2="630.38" y2="146.52" stroke="#333" stroke-width="0.7"/>
<line x1="630.38" y1="146.52" x2="649.70" y2="156.48" stroke="#333" stroke-width="0.7"/>
<line x1="630.38" y1="156.48" x2="649.70" y2="146.52" stroke="#333" stroke-width="0.7"/>
<rect x="553.10" y="157.08" width="20.12" height="11.96" fill="#040404" stroke="none" stroke-width="0"/>
<rect x="572.42" y="157.08" width="20.12" height="11.96" fill="#2e6a26" stroke="none" stroke-width="0"/>
<rect x="591.74" y="157.08" width="20.12" height="11.96" fill="#0a1a08" stroke="none" stroke-width="0"/>
<rect x="611.06" y="157.08" width="20.12" height="11.96" fill="#742a74" stroke="none" stroke-width="0"/>
<rect x="630.38" y="157.08" width="20.12" height="11.96" fill="#0c040c" stroke="none" stroke-width="0"/>
<rect x="553.10" y="168.24" width="20.12" height="11.96" fill="#1a3e14" stroke="none" stroke-width="0"/>
<rect x="572.42" y="168.24" width="20.12" height="11.96" fill="#0a040a" stroke="none" stroke-width="0"/>
<rect x="591.74" y="168.24" width="20.12" height="11.96" fill="#0e260c" stroke="none" stroke-width="0"/>
<rect x="611.06" y="168.24" width="20.12" height="11.96" fill="#1c4a18" stroke="none" stroke-width="0"/>
<rect x="630.38" y="168.24" width="20.12" height="11.96" fill="#122c0e" stroke="none" stroke-width="0"/>
<rect x="553.10" y="34.30" width="96.60" height="145.10" fill="none" stroke="#1a1a1a" stroke-width="1"/>
<line x1="562.76" y1="179.40" x2="562.76" y2="183.40" stroke="#111" stroke-width="1.0"/>
<text transform="translate(564.76,190.40) rotate(-45)" font-size="7.2" font-weight="bold" text-anchor="end" fill="#111"><tspan font-style="italic">C3orf58</tspan>-/-</text>
<line x1="582.08" y1="179.40" x2="582.08" y2="183.40" stroke="#111" stroke-width="1.0"/>
<text transform="translate(584.08,190.40) rotate(-45)" font-size="7.2" font-weight="bold" text-anchor="end" fill="#111"><tspan font-style="italic">C3orf58</tspan>-/- resc.WT</text>
<line x1="601.40" y1="179.40" x2="601.40" y2="183.40" stroke="#111" stroke-width="1.0"/>
<text transform="translate(603.40,190.40) rotate(-45)" font-size="7.2" font-weight="bold" text-anchor="end" fill="#111"><tspan font-style="italic">C3orf58</tspan>-/- resc.3MUT</text>
<line x1="620.72" y1="179.40" x2="620.72" y2="183.40" stroke="#111" stroke-width="1.0"/>
<text transform="translate(622.72,190.40) rotate(-45)" font-size="7.2" font-weight="bold" text-anchor="end" fill="#111"><tspan font-style="italic">SLC39A9</tspan>-/-</text>
<line x1="640.04" y1="179.40" x2="640.04" y2="183.40" stroke="#111" stroke-width="1.0"/>
<text transform="translate(642.04,190.40) rotate(-45)" font-size="7.2" font-weight="bold" text-anchor="end" fill="#111">SLC39A9-/- resc.WT</text>
<line x1="123.00" y1="39.88" x2="127.30" y2="39.88" stroke="#111" stroke-width="1.0"/>
<text x="122.20" y="42.98" font-size="7.5" font-weight="bold" font-style="normal" text-anchor="end" fill="#111" ><tspan font-weight="normal">&#916;</tspan>UA-GlcNAc</text>
<line x1="123.00" y1="51.04" x2="127.30" y2="51.04" stroke="#111" stroke-width="1.0"/>
<text x="122.20" y="54.14" font-size="7.5" font-weight="bold" font-style="normal" text-anchor="end" fill="#111" ><tspan font-weight="normal">&#916;</tspan>UA2S-GlcNAc</text>
<line x1="123.00" y1="62.20" x2="127.30" y2="62.20" stroke="#111" stroke-width="1.0"/>
<text x="122.20" y="65.30" font-size="7.5" font-weight="bold" font-style="normal" text-anchor="end" fill="#111" ><tspan font-weight="normal">&#916;</tspan>UA-GlcNAc6S</text>
<line x1="123.00" y1="73.37" x2="127.30" y2="73.37" stroke="#111" stroke-width="1.0"/>
<text x="122.20" y="76.47" font-size="7.5" font-weight="bold" font-style="normal" text-anchor="end" fill="#111" ><tspan font-weight="normal">&#916;</tspan>UA2S-GlcNAc6S</text>
<line x1="123.00" y1="84.53" x2="127.30" y2="84.53" stroke="#111" stroke-width="1.0"/>
<text x="122.20" y="87.63" font-size="7.5" font-weight="bold" font-style="normal" text-anchor="end" fill="#111" ><tspan font-weight="normal">&#916;</tspan>UA-GlcNS</text>
<line x1="123.00" y1="95.69" x2="127.30" y2="95.69" stroke="#111" stroke-width="1.0"/>
<text x="122.20" y="98.79" font-size="7.5" font-weight="bold" font-style="normal" text-anchor="end" fill="#111" ><tspan font-weight="normal">&#916;</tspan>UA2S-GlcNS</text>
<line x1="123.00" y1="106.85" x2="127.30" y2="106.85" stroke="#111" stroke-width="1.0"/>
<text x="122.20" y="109.95" font-size="7.5" font-weight="bold" font-style="normal" text-anchor="end" fill="#111" ><tspan font-weight="normal">&#916;</tspan>UA-GlcNS6S</text>
<line x1="123.00" y1="118.01" x2="127.30" y2="118.01" stroke="#111" stroke-width="1.0"/>
<text x="122.20" y="121.11" font-size="7.5" font-weight="bold" font-style="normal" text-anchor="end" fill="#111" ><tspan font-weight="normal">&#916;</tspan>UA2S-GlcNS6S</text>
<line x1="123.00" y1="129.17" x2="127.30" y2="129.17" stroke="#111" stroke-width="1.0"/>
<text x="122.20" y="132.27" font-size="7.5" font-weight="bold" font-style="normal" text-anchor="end" fill="#111" ><tspan font-weight="normal">&#916;</tspan>UA-GlcNAc6S-GlcA-GlcNS3S6S</text>
<line x1="123.00" y1="140.33" x2="127.30" y2="140.33" stroke="#111" stroke-width="1.0"/>
<text x="122.20" y="143.43" font-size="7.5" font-weight="bold" font-style="normal" text-anchor="end" fill="#111" ><tspan font-weight="normal">&#916;</tspan>UA-GlcNS6S-GlcA-GlcNS3S6S</text>
<line x1="123.00" y1="151.50" x2="127.30" y2="151.50" stroke="#111" stroke-width="1.0"/>
<text x="122.20" y="154.60" font-size="7.5" font-weight="bold" font-style="normal" text-anchor="end" fill="#111" ><tspan font-weight="normal">&#916;</tspan>UA-GlcNS6S-IdoA2S-GlcNS3S6S</text>
<line x1="123.00" y1="162.66" x2="127.30" y2="162.66" stroke="#111" stroke-width="1.0"/>
<text x="122.20" y="165.76" font-size="7.5" font-weight="bold" font-style="normal" text-anchor="end" fill="#111" ><tspan font-weight="normal">&#916;</tspan>UA-GlcNS-IdoA2S-GlcNS3S</text>
<line x1="123.00" y1="173.82" x2="127.30" y2="173.82" stroke="#111" stroke-width="1.0"/>
<text x="122.20" y="176.92" font-size="7.5" font-weight="bold" font-style="normal" text-anchor="end" fill="#111" ><tspan font-weight="normal">&#916;</tspan>UA2S-GlcNS-IdoA2S-GlcNS3S</text>
<defs>
<linearGradient id="vir" x1="0" y1="0" x2="0" y2="1"><stop offset="0.00" stop-color="#f0e835"/><stop offset="0.10" stop-color="#bddf26"/><stop offset="0.20" stop-color="#7ad151"/><stop offset="0.30" stop-color="#44bf70"/><stop offset="0.40" stop-color="#22a884"/><stop offset="0.50" stop-color="#21918c"/><stop offset="0.60" stop-color="#2a788e"/><stop offset="0.70" stop-color="#355f8d"/><stop offset="0.80" stop-color="#414487"/><stop offset="0.90" stop-color="#482475"/><stop offset="1.00" stop-color="#460a5c"/></linearGradient>
<linearGradient id="mgB" x1="0" y1="0" x2="0" y2="1"><stop offset="0" stop-color="#f552f5"/><stop offset="0.448" stop-color="#000"/><stop offset="1" stop-color="#58f040"/></linearGradient>
<linearGradient id="mgD" x1="0" y1="0" x2="0" y2="1"><stop offset="0" stop-color="#f552f5"/><stop offset="0.538" stop-color="#000"/><stop offset="1" stop-color="#58f040"/></linearGradient>
</defs>
<rect x="236.00" y="34.30" width="12.60" height="145.10" fill="url(#vir)" stroke="#333" stroke-width="0.9"/>
<line x1="236.00" y1="62.40" x2="238.00" y2="62.40" stroke="#111" stroke-width="0.9"/>
<line x1="246.60" y1="62.40" x2="248.60" y2="62.40" stroke="#111" stroke-width="0.9"/>
<text x="252.50" y="65.10" font-size="7.6" font-weight="normal" font-style="normal" text-anchor="start" fill="#222" >300</text>
<line x1="236.00" y1="101.40" x2="238.00" y2="101.40" stroke="#111" stroke-width="0.9"/>
<line x1="246.60" y1="101.40" x2="248.60" y2="101.40" stroke="#111" stroke-width="0.9"/>
<text x="252.50" y="104.10" font-size="7.6" font-weight="normal" font-style="normal" text-anchor="start" fill="#222" >200</text>
<line x1="236.00" y1="140.40" x2="238.00" y2="140.40" stroke="#111" stroke-width="0.9"/>
<line x1="246.60" y1="140.40" x2="248.60" y2="140.40" stroke="#111" stroke-width="0.9"/>
<text x="252.50" y="143.10" font-size="7.6" font-weight="normal" font-style="normal" text-anchor="start" fill="#222" >100</text>
<line x1="236.00" y1="179.40" x2="238.00" y2="179.40" stroke="#111" stroke-width="0.9"/>
<line x1="246.60" y1="179.40" x2="248.60" y2="179.40" stroke="#111" stroke-width="0.9"/>
<text x="252.50" y="182.10" font-size="7.6" font-weight="normal" font-style="normal" text-anchor="start" fill="#222" >0</text>
<rect x="381.40" y="34.30" width="12.60" height="145.10" fill="url(#mgB)" stroke="#333" stroke-width="0.9"/>
<line x1="381.40" y1="61.50" x2="383.40" y2="61.50" stroke="#111" stroke-width="0.9"/>
<line x1="392.00" y1="61.50" x2="394.00" y2="61.50" stroke="#111" stroke-width="0.9"/>
<text x="397.90" y="64.20" font-size="7.6" font-weight="normal" font-style="normal" text-anchor="start" fill="#222" >1</text>
<line x1="381.40" y1="99.30" x2="383.40" y2="99.30" stroke="#111" stroke-width="0.9"/>
<line x1="392.00" y1="99.30" x2="394.00" y2="99.30" stroke="#111" stroke-width="0.9"/>
<text x="397.90" y="102.00" font-size="7.6" font-weight="normal" font-style="normal" text-anchor="start" fill="#222" >0</text>
<line x1="381.40" y1="137.00" x2="383.40" y2="137.00" stroke="#111" stroke-width="0.9"/>
<line x1="392.00" y1="137.00" x2="394.00" y2="137.00" stroke="#111" stroke-width="0.9"/>
<text x="397.90" y="139.70" font-size="7.6" font-weight="normal" font-style="normal" text-anchor="start" fill="#222" >-1</text>
<line x1="381.40" y1="174.60" x2="383.40" y2="174.60" stroke="#111" stroke-width="0.9"/>
<line x1="392.00" y1="174.60" x2="394.00" y2="174.60" stroke="#111" stroke-width="0.9"/>
<text x="397.90" y="177.30" font-size="7.6" font-weight="normal" font-style="normal" text-anchor="start" fill="#222" >-2</text>
<rect x="519.80" y="34.30" width="12.70" height="145.10" fill="url(#vir)" stroke="#333" stroke-width="0.9"/>
<line x1="519.80" y1="80.40" x2="521.80" y2="80.40" stroke="#111" stroke-width="0.9"/>
<line x1="530.50" y1="80.40" x2="532.50" y2="80.40" stroke="#111" stroke-width="0.9"/>
<text x="536.40" y="83.10" font-size="7.6" font-weight="normal" font-style="normal" text-anchor="start" fill="#222" >40</text>
<line x1="519.80" y1="129.90" x2="521.80" y2="129.90" stroke="#111" stroke-width="0.9"/>
<line x1="530.50" y1="129.90" x2="532.50" y2="129.90" stroke="#111" stroke-width="0.9"/>
<text x="536.40" y="132.60" font-size="7.6" font-weight="normal" font-style="normal" text-anchor="start" fill="#222" >20</text>
<line x1="519.80" y1="179.40" x2="521.80" y2="179.40" stroke="#111" stroke-width="0.9"/>
<line x1="530.50" y1="179.40" x2="532.50" y2="179.40" stroke="#111" stroke-width="0.9"/>
<text x="536.40" y="182.10" font-size="7.6" font-weight="normal" font-style="normal" text-anchor="start" fill="#222" >0</text>
<rect x="662.00" y="34.30" width="12.50" height="145.10" fill="url(#mgD)" stroke="#333" stroke-width="0.9"/>
<line x1="662.00" y1="70.00" x2="664.00" y2="70.00" stroke="#111" stroke-width="0.9"/>
<line x1="672.50" y1="70.00" x2="674.50" y2="70.00" stroke="#111" stroke-width="0.9"/>
<text x="678.40" y="72.70" font-size="7.6" font-weight="normal" font-style="normal" text-anchor="start" fill="#222" >1</text>
<line x1="662.00" y1="112.30" x2="664.00" y2="112.30" stroke="#111" stroke-width="0.9"/>
<line x1="672.50" y1="112.30" x2="674.50" y2="112.30" stroke="#111" stroke-width="0.9"/>
<text x="678.40" y="115.00" font-size="7.6" font-weight="normal" font-style="normal" text-anchor="start" fill="#222" >0</text>
<line x1="662.00" y1="154.60" x2="664.00" y2="154.60" stroke="#111" stroke-width="0.9"/>
<line x1="672.50" y1="154.60" x2="674.50" y2="154.60" stroke="#111" stroke-width="0.9"/>
<text x="678.40" y="157.30" font-size="7.6" font-weight="normal" font-style="normal" text-anchor="start" fill="#222" >-1</text>
<rect x="52.00" y="380.56" width="18.43" height="64.44" fill="#808080" stroke="none" stroke-width="0"/>
<rect x="70.23" y="339.09" width="18.43" height="105.91" fill="#eea04c" stroke="none" stroke-width="0"/>
<rect x="88.47" y="403.02" width="18.43" height="41.98" fill="#f07f22" stroke="none" stroke-width="0"/>
<rect x="106.70" y="393.96" width="18.43" height="51.04" fill="#c0641e" stroke="none" stroke-width="0"/>
<rect x="124.93" y="403.02" width="18.43" height="41.98" fill="#c2c2fa" stroke="none" stroke-width="0"/>
<rect x="143.17" y="362.06" width="18.43" height="82.94" fill="#5b4ff5" stroke="none" stroke-width="0"/>
<line x1="61.12" y1="376.60" x2="61.12" y2="384.60" stroke="#111" stroke-width="1.1"/>
<line x1="56.92" y1="376.60" x2="65.32" y2="376.60" stroke="#111" stroke-width="1.1"/>
<line x1="56.92" y1="384.60" x2="65.32" y2="384.60" stroke="#111" stroke-width="1.1"/>
<line x1="79.35" y1="320.80" x2="79.35" y2="357.90" stroke="#111" stroke-width="1.1"/>
<line x1="75.15" y1="320.80" x2="83.55" y2="320.80" stroke="#111" stroke-width="1.1"/>
<line x1="75.15" y1="357.90" x2="83.55" y2="357.90" stroke="#111" stroke-width="1.1"/>
<line x1="97.58" y1="398.80" x2="97.58" y2="405.20" stroke="#111" stroke-width="1.1"/>
<line x1="93.38" y1="398.80" x2="101.78" y2="398.80" stroke="#111" stroke-width="1.1"/>
<line x1="93.38" y1="405.20" x2="101.78" y2="405.20" stroke="#111" stroke-width="1.1"/>
<line x1="115.82" y1="381.80" x2="115.82" y2="405.70" stroke="#111" stroke-width="1.1"/>
<line x1="111.62" y1="381.80" x2="120.02" y2="381.80" stroke="#111" stroke-width="1.1"/>
<line x1="111.62" y1="405.70" x2="120.02" y2="405.70" stroke="#111" stroke-width="1.1"/>
<line x1="134.05" y1="392.60" x2="134.05" y2="413.30" stroke="#111" stroke-width="1.1"/>
<line x1="129.85" y1="392.60" x2="138.25" y2="392.60" stroke="#111" stroke-width="1.1"/>
<line x1="129.85" y1="413.30" x2="138.25" y2="413.30" stroke="#111" stroke-width="1.1"/>
<line x1="152.28" y1="345.50" x2="152.28" y2="378.30" stroke="#111" stroke-width="1.1"/>
<line x1="148.08" y1="345.50" x2="156.48" y2="345.50" stroke="#111" stroke-width="1.1"/>
<line x1="148.08" y1="378.30" x2="156.48" y2="378.30" stroke="#111" stroke-width="1.1"/>
<circle cx="58.80" cy="377.60" r="1.65" fill="#111"/>
<circle cx="63.20" cy="377.60" r="1.65" fill="#111"/>
<circle cx="61.00" cy="384.50" r="1.65" fill="#111"/>
<circle cx="79.40" cy="322.50" r="1.65" fill="#111"/>
<circle cx="79.40" cy="337.00" r="1.65" fill="#111"/>
<circle cx="79.40" cy="358.40" r="1.65" fill="#111"/>
<circle cx="97.60" cy="399.00" r="1.65" fill="#111"/>
<circle cx="95.40" cy="405.00" r="1.65" fill="#111"/>
<circle cx="99.80" cy="405.00" r="1.65" fill="#111"/>
<circle cx="115.80" cy="382.50" r="1.65" fill="#111"/>
<circle cx="115.80" cy="393.20" r="1.65" fill="#111"/>
<circle cx="115.80" cy="405.50" r="1.65" fill="#111"/>
<circle cx="131.60" cy="397.00" r="1.65" fill="#111"/>
<circle cx="137.00" cy="397.00" r="1.65" fill="#111"/>
<circle cx="134.00" cy="414.30" r="1.65" fill="#111"/>
<circle cx="152.30" cy="343.00" r="1.65" fill="#111"/>
<circle cx="152.30" cy="369.00" r="1.65" fill="#111"/>
<circle cx="152.30" cy="374.00" r="1.65" fill="#111"/>
<line x1="42.60" y1="317.40" x2="42.60" y2="445.60" stroke="#222" stroke-width="1.2"/>
<line x1="42.00" y1="445.00" x2="170.80" y2="445.00" stroke="#222" stroke-width="1.2"/>
<line x1="39.00" y1="445.00" x2="42.60" y2="445.00" stroke="#222" stroke-width="1.1"/>
<text x="38.20" y="447.50" font-size="7.2" font-weight="bold" font-style="normal" text-anchor="end" fill="#111" >0</text>
<line x1="39.00" y1="381.20" x2="42.60" y2="381.20" stroke="#222" stroke-width="1.1"/>
<text x="38.20" y="383.70" font-size="7.2" font-weight="bold" font-style="normal" text-anchor="end" fill="#111" >500</text>
<line x1="39.00" y1="317.40" x2="42.60" y2="317.40" stroke="#222" stroke-width="1.1"/>
<text x="38.20" y="319.90" font-size="7.2" font-weight="bold" font-style="normal" text-anchor="end" fill="#111" >1000</text>
<line x1="40.40" y1="413.10" x2="42.60" y2="413.10" stroke="#222" stroke-width="1.0"/>
<line x1="40.40" y1="349.30" x2="42.60" y2="349.30" stroke="#222" stroke-width="1.0"/>
<line x1="61.12" y1="445.00" x2="61.12" y2="448.80" stroke="#111" stroke-width="1.1"/>
<text transform="translate(63.32,453.20) rotate(-45)" font-size="7.2" font-weight="bold" text-anchor="end" fill="#111">WT</text>
<line x1="79.35" y1="445.00" x2="79.35" y2="448.80" stroke="#111" stroke-width="1.1"/>
<text transform="translate(81.55,453.20) rotate(-45)" font-size="7.2" font-weight="bold" text-anchor="end" fill="#111"><tspan font-style="italic">C3orf58</tspan> -/-</text>
<line x1="97.58" y1="445.00" x2="97.58" y2="448.80" stroke="#111" stroke-width="1.1"/>
<text transform="translate(99.78,453.20) rotate(-45)" font-size="7.2" font-weight="bold" text-anchor="end" fill="#111"><tspan font-style="italic">C3orf58</tspan> -/- resc.WT</text>
<line x1="115.82" y1="445.00" x2="115.82" y2="448.80" stroke="#111" stroke-width="1.1"/>
<text transform="translate(118.02,453.20) rotate(-45)" font-size="7.2" font-weight="bold" text-anchor="end" fill="#111"><tspan font-style="italic">C3orf58</tspan> -/- resc.3MUT</text>
<line x1="134.05" y1="445.00" x2="134.05" y2="448.80" stroke="#111" stroke-width="1.1"/>
<text transform="translate(136.25,453.20) rotate(-45)" font-size="7.2" font-weight="bold" text-anchor="end" fill="#111"><tspan font-style="italic">SLC39A9</tspan> -/-</text>
<line x1="152.28" y1="445.00" x2="152.28" y2="448.80" stroke="#111" stroke-width="1.1"/>
<text transform="translate(154.48,453.20) rotate(-45)" font-size="7.2" font-weight="bold" text-anchor="end" fill="#111">SLC39A9 -/- resc.WT</text>
<text transform="translate(17.90,380.60) rotate(-90) scale(1,1.15)" font-size="7.6" font-weight="bold" text-anchor="middle" fill="#111">TOTAL HS per mg protein</text>
<rect x="219.60" y="387.71" width="18.93" height="57.29" fill="#808080" stroke="none" stroke-width="0"/>
<rect x="238.33" y="349.87" width="18.93" height="95.13" fill="#eea04c" stroke="none" stroke-width="0"/>
<rect x="257.07" y="398.75" width="18.93" height="46.25" fill="#f07f22" stroke="none" stroke-width="0"/>
<rect x="275.80" y="393.49" width="18.93" height="51.51" fill="#c0641e" stroke="none" stroke-width="0"/>
<rect x="294.53" y="401.90" width="18.93" height="43.10" fill="#c2c2fa" stroke="none" stroke-width="0"/>
<rect x="313.27" y="368.79" width="18.93" height="76.21" fill="#5b4ff5" stroke="none" stroke-width="0"/>
<line x1="228.97" y1="376.50" x2="228.97" y2="399.10" stroke="#111" stroke-width="1.1"/>
<line x1="224.77" y1="376.50" x2="233.17" y2="376.50" stroke="#111" stroke-width="1.1"/>
<line x1="224.77" y1="399.10" x2="233.17" y2="399.10" stroke="#111" stroke-width="1.1"/>
<line x1="247.70" y1="337.00" x2="247.70" y2="363.50" stroke="#111" stroke-width="1.1"/>
<line x1="243.50" y1="337.00" x2="251.90" y2="337.00" stroke="#111" stroke-width="1.1"/>
<line x1="243.50" y1="363.50" x2="251.90" y2="363.50" stroke="#111" stroke-width="1.1"/>
<line x1="266.43" y1="392.20" x2="266.43" y2="405.20" stroke="#111" stroke-width="1.1"/>
<line x1="262.23" y1="392.20" x2="270.63" y2="392.20" stroke="#111" stroke-width="1.1"/>
<line x1="262.23" y1="405.20" x2="270.63" y2="405.20" stroke="#111" stroke-width="1.1"/>
<line x1="285.17" y1="374.30" x2="285.17" y2="412.20" stroke="#111" stroke-width="1.1"/>
<line x1="280.97" y1="374.30" x2="289.37" y2="374.30" stroke="#111" stroke-width="1.1"/>
<line x1="280.97" y1="412.20" x2="289.37" y2="412.20" stroke="#111" stroke-width="1.1"/>
<line x1="303.90" y1="388.80" x2="303.90" y2="414.50" stroke="#111" stroke-width="1.1"/>
<line x1="299.70" y1="388.80" x2="308.10" y2="388.80" stroke="#111" stroke-width="1.1"/>
<line x1="299.70" y1="414.50" x2="308.10" y2="414.50" stroke="#111" stroke-width="1.1"/>
<line x1="322.63" y1="360.60" x2="322.63" y2="377.00" stroke="#111" stroke-width="1.1"/>
<line x1="318.43" y1="360.60" x2="326.83" y2="360.60" stroke="#111" stroke-width="1.1"/>
<line x1="318.43" y1="377.00" x2="326.83" y2="377.00" stroke="#111" stroke-width="1.1"/>
<circle cx="228.80" cy="377.00" r="1.65" fill="#111"/>
<circle cx="228.80" cy="387.60" r="1.65" fill="#111"/>
<circle cx="228.80" cy="399.30" r="1.65" fill="#111"/>
<circle cx="247.50" cy="337.50" r="1.65" fill="#111"/>
<circle cx="247.50" cy="347.60" r="1.65" fill="#111"/>
<circle cx="247.50" cy="364.50" r="1.65" fill="#111"/>
<circle cx="266.30" cy="392.00" r="1.65" fill="#111"/>
<circle cx="263.50" cy="403.50" r="1.65" fill="#111"/>
<circle cx="269.00" cy="402.00" r="1.65" fill="#111"/>
<circle cx="285.00" cy="374.50" r="1.65" fill="#111"/>
<circle cx="285.00" cy="395.60" r="1.65" fill="#111"/>
<circle cx="285.00" cy="411.50" r="1.65" fill="#111"/>
<circle cx="300.70" cy="392.80" r="1.65" fill="#111"/>
<circle cx="306.50" cy="395.40" r="1.65" fill="#111"/>
<circle cx="303.70" cy="416.00" r="1.65" fill="#111"/>
<circle cx="322.50" cy="359.00" r="1.65" fill="#111"/>
<circle cx="319.50" cy="373.70" r="1.65" fill="#111"/>
<circle cx="325.40" cy="373.70" r="1.65" fill="#111"/>
<line x1="209.60" y1="313.60" x2="209.60" y2="445.60" stroke="#222" stroke-width="1.2"/>
<line x1="209.00" y1="445.00" x2="341.40" y2="445.00" stroke="#222" stroke-width="1.2"/>
<line x1="206.00" y1="445.00" x2="209.60" y2="445.00" stroke="#222" stroke-width="1.1"/>
<text x="205.20" y="447.50" font-size="7.2" font-weight="bold" font-style="normal" text-anchor="end" fill="#111" >0</text>
<line x1="206.00" y1="418.72" x2="209.60" y2="418.72" stroke="#222" stroke-width="1.1"/>
<text x="205.20" y="421.22" font-size="7.2" font-weight="bold" font-style="normal" text-anchor="end" fill="#111" >100</text>
<line x1="206.00" y1="392.44" x2="209.60" y2="392.44" stroke="#222" stroke-width="1.1"/>
<text x="205.20" y="394.94" font-size="7.2" font-weight="bold" font-style="normal" text-anchor="end" fill="#111" >200</text>
<line x1="206.00" y1="366.16" x2="209.60" y2="366.16" stroke="#222" stroke-width="1.1"/>
<text x="205.20" y="368.66" font-size="7.2" font-weight="bold" font-style="normal" text-anchor="end" fill="#111" >300</text>
<line x1="206.00" y1="339.88" x2="209.60" y2="339.88" stroke="#222" stroke-width="1.1"/>
<text x="205.20" y="342.38" font-size="7.2" font-weight="bold" font-style="normal" text-anchor="end" fill="#111" >400</text>
<line x1="206.00" y1="313.60" x2="209.60" y2="313.60" stroke="#222" stroke-width="1.1"/>
<text x="205.20" y="316.10" font-size="7.2" font-weight="bold" font-style="normal" text-anchor="end" fill="#111" >500</text>
<line x1="228.97" y1="445.00" x2="228.97" y2="448.80" stroke="#111" stroke-width="1.1"/>
<text transform="translate(231.17,453.20) rotate(-45)" font-size="7.2" font-weight="bold" text-anchor="end" fill="#111">WT</text>
<line x1="247.70" y1="445.00" x2="247.70" y2="448.80" stroke="#111" stroke-width="1.1"/>
<text transform="translate(249.90,453.20) rotate(-45)" font-size="7.2" font-weight="bold" text-anchor="end" fill="#111"><tspan font-style="italic">C3orf58</tspan>-/-</text>
<line x1="266.43" y1="445.00" x2="266.43" y2="448.80" stroke="#111" stroke-width="1.1"/>
<text transform="translate(268.63,453.20) rotate(-45)" font-size="7.2" font-weight="bold" text-anchor="end" fill="#111"><tspan font-style="italic">C3orf58</tspan>-/- resc.WT</text>
<line x1="285.17" y1="445.00" x2="285.17" y2="448.80" stroke="#111" stroke-width="1.1"/>
<text transform="translate(287.37,453.20) rotate(-45)" font-size="7.2" font-weight="bold" text-anchor="end" fill="#111"><tspan font-style="italic">C3orf58</tspan>-/- resc.3MUT</text>
<line x1="303.90" y1="445.00" x2="303.90" y2="448.80" stroke="#111" stroke-width="1.1"/>
<text transform="translate(306.10,453.20) rotate(-45)" font-size="7.2" font-weight="bold" text-anchor="end" fill="#111"><tspan font-style="italic">SLC39A9</tspan>-/-</text>
<line x1="322.63" y1="445.00" x2="322.63" y2="448.80" stroke="#111" stroke-width="1.1"/>
<text transform="translate(324.83,453.20) rotate(-45)" font-size="7.2" font-weight="bold" text-anchor="end" fill="#111">SLC39A9-/- resc.WT</text>
<text transform="translate(188.80,378.50) rotate(-90) scale(1,1.15)" font-size="7.8" font-weight="bold" text-anchor="middle" fill="#111"><tspan font-weight="normal">&#916;</tspan>UA-GlcNAc per mg protein</text>
<rect x="390.20" y="387.21" width="18.88" height="57.99" fill="#808080" stroke="none" stroke-width="0"/>
<rect x="408.88" y="352.33" width="18.88" height="92.87" fill="#eea04c" stroke="none" stroke-width="0"/>
<rect x="427.57" y="415.99" width="18.88" height="29.21" fill="#f07f22" stroke="none" stroke-width="0"/>
<rect x="446.25" y="405.52" width="18.88" height="39.68" fill="#c0641e" stroke="none" stroke-width="0"/>
<rect x="464.93" y="414.68" width="18.88" height="30.52" fill="#c2c2fa" stroke="none" stroke-width="0"/>
<rect x="483.62" y="374.13" width="18.88" height="71.07" fill="#5b4ff5" stroke="none" stroke-width="0"/>
<line x1="399.54" y1="380.10" x2="399.54" y2="394.30" stroke="#111" stroke-width="1.1"/>
<line x1="395.34" y1="380.10" x2="403.74" y2="380.10" stroke="#111" stroke-width="1.1"/>
<line x1="395.34" y1="394.30" x2="403.74" y2="394.30" stroke="#111" stroke-width="1.1"/>
<line x1="418.23" y1="334.10" x2="418.23" y2="371.20" stroke="#111" stroke-width="1.1"/>
<line x1="414.03" y1="334.10" x2="422.43" y2="334.10" stroke="#111" stroke-width="1.1"/>
<line x1="414.03" y1="371.20" x2="422.43" y2="371.20" stroke="#111" stroke-width="1.1"/>
<line x1="436.91" y1="414.20" x2="436.91" y2="417.40" stroke="#111" stroke-width="1.1"/>
<line x1="432.71" y1="414.20" x2="441.11" y2="414.20" stroke="#111" stroke-width="1.1"/>
<line x1="432.71" y1="417.40" x2="441.11" y2="417.40" stroke="#111" stroke-width="1.1"/>
<line x1="455.59" y1="397.90" x2="455.59" y2="413.30" stroke="#111" stroke-width="1.1"/>
<line x1="451.39" y1="397.90" x2="459.79" y2="397.90" stroke="#111" stroke-width="1.1"/>
<line x1="451.39" y1="413.30" x2="459.79" y2="413.30" stroke="#111" stroke-width="1.1"/>
<line x1="474.27" y1="408.30" x2="474.27" y2="421.60" stroke="#111" stroke-width="1.1"/>
<line x1="470.07" y1="408.30" x2="478.47" y2="408.30" stroke="#111" stroke-width="1.1"/>
<line x1="470.07" y1="421.60" x2="478.47" y2="421.60" stroke="#111" stroke-width="1.1"/>
<line x1="492.96" y1="349.80" x2="492.96" y2="398.80" stroke="#111" stroke-width="1.1"/>
<line x1="488.76" y1="349.80" x2="497.16" y2="349.80" stroke="#111" stroke-width="1.1"/>
<line x1="488.76" y1="398.80" x2="497.16" y2="398.80" stroke="#111" stroke-width="1.1"/>
<circle cx="399.70" cy="380.00" r="1.65" fill="#111"/>
<circle cx="397.00" cy="393.50" r="1.65" fill="#111"/>
<circle cx="402.50" cy="391.50" r="1.65" fill="#111"/>
<circle cx="418.40" cy="335.50" r="1.65" fill="#111"/>
<circle cx="418.40" cy="349.00" r="1.65" fill="#111"/>
<circle cx="418.40" cy="371.50" r="1.65" fill="#111"/>
<circle cx="430.80" cy="417.50" r="1.65" fill="#111"/>
<circle cx="438.20" cy="414.80" r="1.65" fill="#111"/>
<circle cx="442.70" cy="415.50" r="1.65" fill="#111"/>
<circle cx="455.60" cy="398.60" r="1.65" fill="#111"/>
<circle cx="455.60" cy="404.50" r="1.65" fill="#111"/>
<circle cx="455.60" cy="413.30" r="1.65" fill="#111"/>
<circle cx="471.70" cy="410.60" r="1.65" fill="#111"/>
<circle cx="476.80" cy="412.00" r="1.65" fill="#111"/>
<circle cx="474.20" cy="421.60" r="1.65" fill="#111"/>
<circle cx="492.90" cy="347.20" r="1.65" fill="#111"/>
<circle cx="492.90" cy="380.70" r="1.65" fill="#111"/>
<circle cx="492.90" cy="395.60" r="1.65" fill="#111"/>
<line x1="381.20" y1="314.40" x2="381.20" y2="445.80" stroke="#222" stroke-width="1.2"/>
<line x1="380.60" y1="445.20" x2="510.00" y2="445.20" stroke="#222" stroke-width="1.2"/>
<line x1="377.60" y1="445.20" x2="381.20" y2="445.20" stroke="#222" stroke-width="1.1"/>
<text x="376.80" y="447.70" font-size="7.2" font-weight="bold" font-style="normal" text-anchor="end" fill="#111" >0</text>
<line x1="377.60" y1="401.60" x2="381.20" y2="401.60" stroke="#222" stroke-width="1.1"/>
<text x="376.80" y="404.10" font-size="7.2" font-weight="bold" font-style="normal" text-anchor="end" fill="#111" >100</text>
<line x1="377.60" y1="358.00" x2="381.20" y2="358.00" stroke="#222" stroke-width="1.1"/>
<text x="376.80" y="360.50" font-size="7.2" font-weight="bold" font-style="normal" text-anchor="end" fill="#111" >200</text>
<line x1="377.60" y1="314.40" x2="381.20" y2="314.40" stroke="#222" stroke-width="1.1"/>
<text x="376.80" y="316.90" font-size="7.2" font-weight="bold" font-style="normal" text-anchor="end" fill="#111" >300</text>
<line x1="399.54" y1="445.20" x2="399.54" y2="449.00" stroke="#111" stroke-width="1.1"/>
<text transform="translate(401.74,453.40) rotate(-45)" font-size="7.2" font-weight="bold" text-anchor="end" fill="#111">WT</text>
<line x1="418.23" y1="445.20" x2="418.23" y2="449.00" stroke="#111" stroke-width="1.1"/>
<text transform="translate(420.43,453.40) rotate(-45)" font-size="7.2" font-weight="bold" text-anchor="end" fill="#111"><tspan font-style="italic">C3orf58</tspan>-/-</text>
<line x1="436.91" y1="445.20" x2="436.91" y2="449.00" stroke="#111" stroke-width="1.1"/>
<text transform="translate(439.11,453.40) rotate(-45)" font-size="7.2" font-weight="bold" text-anchor="end" fill="#111"><tspan font-style="italic">C3orf58</tspan>-/- resc.WT</text>
<line x1="455.59" y1="445.20" x2="455.59" y2="449.00" stroke="#111" stroke-width="1.1"/>
<text transform="translate(457.79,453.40) rotate(-45)" font-size="7.2" font-weight="bold" text-anchor="end" fill="#111"><tspan font-style="italic">C3orf58</tspan>-/- resc.3MUT</text>
<line x1="474.27" y1="445.20" x2="474.27" y2="449.00" stroke="#111" stroke-width="1.1"/>
<text transform="translate(476.47,453.40) rotate(-45)" font-size="7.2" font-weight="bold" text-anchor="end" fill="#111"><tspan font-style="italic">SLC39A9</tspan>-/-</text>
<line x1="492.96" y1="445.20" x2="492.96" y2="449.00" stroke="#111" stroke-width="1.1"/>
<text transform="translate(495.16,453.40) rotate(-45)" font-size="7.2" font-weight="bold" text-anchor="end" fill="#111">SLC39A9-/- resc.WT</text>
<text transform="translate(359.30,380.20) rotate(-90) scale(1,1.2)" font-size="7.8" font-weight="bold" text-anchor="middle" fill="#111"><tspan font-weight="normal">&#916;</tspan>UA-GlcNS per mg protein</text>
<rect x="555.20" y="382.38" width="19.15" height="62.02" fill="#808080" stroke="none" stroke-width="0"/>
<rect x="574.15" y="358.46" width="19.15" height="85.94" fill="#eea04c" stroke="none" stroke-width="0"/>
<rect x="593.10" y="424.02" width="19.15" height="20.38" fill="#f07f22" stroke="none" stroke-width="0"/>
<rect x="612.05" y="414.28" width="19.15" height="30.12" fill="#c0641e" stroke="none" stroke-width="0"/>
<rect x="631.00" y="430.22" width="19.15" height="14.18" fill="#c2c2fa" stroke="none" stroke-width="0"/>
<rect x="649.95" y="382.38" width="19.15" height="62.02" fill="#5b4ff5" stroke="none" stroke-width="0"/>
<line x1="564.68" y1="372.80" x2="564.68" y2="391.70" stroke="#111" stroke-width="1.1"/>
<line x1="560.48" y1="372.80" x2="568.88" y2="372.80" stroke="#111" stroke-width="1.1"/>
<line x1="560.48" y1="391.70" x2="568.88" y2="391.70" stroke="#111" stroke-width="1.1"/>
<line x1="583.62" y1="336.70" x2="583.62" y2="380.30" stroke="#111" stroke-width="1.1"/>
<line x1="579.42" y1="336.70" x2="587.83" y2="336.70" stroke="#111" stroke-width="1.1"/>
<line x1="579.42" y1="380.30" x2="587.83" y2="380.30" stroke="#111" stroke-width="1.1"/>
<line x1="602.58" y1="422.80" x2="602.58" y2="424.20" stroke="#111" stroke-width="1.1"/>
<line x1="598.38" y1="422.80" x2="606.78" y2="422.80" stroke="#111" stroke-width="1.1"/>
<line x1="598.38" y1="424.20" x2="606.78" y2="424.20" stroke="#111" stroke-width="1.1"/>
<line x1="621.52" y1="410.70" x2="621.52" y2="416.30" stroke="#111" stroke-width="1.1"/>
<line x1="617.32" y1="410.70" x2="625.73" y2="410.70" stroke="#111" stroke-width="1.1"/>
<line x1="617.32" y1="416.30" x2="625.73" y2="416.30" stroke="#111" stroke-width="1.1"/>
<line x1="640.48" y1="426.50" x2="640.48" y2="432.80" stroke="#111" stroke-width="1.1"/>
<line x1="636.27" y1="426.50" x2="644.68" y2="426.50" stroke="#111" stroke-width="1.1"/>
<line x1="636.27" y1="432.80" x2="644.68" y2="432.80" stroke="#111" stroke-width="1.1"/>
<line x1="659.42" y1="367.40" x2="659.42" y2="396.40" stroke="#111" stroke-width="1.1"/>
<line x1="655.22" y1="367.40" x2="663.62" y2="367.40" stroke="#111" stroke-width="1.1"/>
<line x1="655.22" y1="396.40" x2="663.62" y2="396.40" stroke="#111" stroke-width="1.1"/>
<circle cx="564.60" cy="371.50" r="1.65" fill="#111"/>
<circle cx="564.00" cy="384.80" r="1.65" fill="#111"/>
<circle cx="564.60" cy="391.00" r="1.65" fill="#111"/>
<circle cx="583.40" cy="335.00" r="1.65" fill="#111"/>
<circle cx="583.40" cy="362.80" r="1.65" fill="#111"/>
<circle cx="583.40" cy="378.50" r="1.65" fill="#111"/>
<circle cx="597.50" cy="423.50" r="1.65" fill="#111"/>
<circle cx="602.60" cy="423.50" r="1.65" fill="#111"/>
<circle cx="607.00" cy="423.50" r="1.65" fill="#111"/>
<circle cx="621.00" cy="411.50" r="1.65" fill="#111"/>
<circle cx="626.00" cy="414.00" r="1.65" fill="#111"/>
<circle cx="621.00" cy="416.00" r="1.65" fill="#111"/>
<circle cx="640.50" cy="426.50" r="1.65" fill="#111"/>
<circle cx="643.40" cy="429.60" r="1.65" fill="#111"/>
<circle cx="640.00" cy="433.00" r="1.65" fill="#111"/>
<circle cx="659.40" cy="366.00" r="1.65" fill="#111"/>
<circle cx="659.40" cy="385.40" r="1.65" fill="#111"/>
<circle cx="659.40" cy="396.40" r="1.65" fill="#111"/>
<line x1="545.50" y1="311.50" x2="545.50" y2="445.00" stroke="#222" stroke-width="1.2"/>
<line x1="544.90" y1="444.40" x2="679.00" y2="444.40" stroke="#222" stroke-width="1.2"/>
<line x1="541.90" y1="444.40" x2="545.50" y2="444.40" stroke="#222" stroke-width="1.1"/>
<text x="541.10" y="446.90" font-size="7.2" font-weight="bold" font-style="normal" text-anchor="end" fill="#111" >0</text>
<line x1="541.90" y1="400.10" x2="545.50" y2="400.10" stroke="#222" stroke-width="1.1"/>
<text x="541.10" y="402.60" font-size="7.2" font-weight="bold" font-style="normal" text-anchor="end" fill="#111" >50</text>
<line x1="541.90" y1="355.80" x2="545.50" y2="355.80" stroke="#222" stroke-width="1.1"/>
<text x="541.10" y="358.30" font-size="7.2" font-weight="bold" font-style="normal" text-anchor="end" fill="#111" >100</text>
<line x1="541.90" y1="311.50" x2="545.50" y2="311.50" stroke="#222" stroke-width="1.1"/>
<text x="541.10" y="314.00" font-size="7.2" font-weight="bold" font-style="normal" text-anchor="end" fill="#111" >150</text>
<line x1="564.68" y1="444.40" x2="564.68" y2="448.20" stroke="#111" stroke-width="1.1"/>
<text transform="translate(566.88,452.60) rotate(-45)" font-size="7.2" font-weight="bold" text-anchor="end" fill="#111">WT</text>
<line x1="583.62" y1="444.40" x2="583.62" y2="448.20" stroke="#111" stroke-width="1.1"/>
<text transform="translate(585.83,452.60) rotate(-45)" font-size="7.2" font-weight="bold" text-anchor="end" fill="#111"><tspan font-style="italic">C3orf58</tspan>-/-</text>
<line x1="602.58" y1="444.40" x2="602.58" y2="448.20" stroke="#111" stroke-width="1.1"/>
<text transform="translate(604.78,452.60) rotate(-45)" font-size="7.2" font-weight="bold" text-anchor="end" fill="#111"><tspan font-style="italic">C3orf58</tspan>-/- resc.WT</text>
<line x1="621.52" y1="444.40" x2="621.52" y2="448.20" stroke="#111" stroke-width="1.1"/>
<text transform="translate(623.73,452.60) rotate(-45)" font-size="7.2" font-weight="bold" text-anchor="end" fill="#111"><tspan font-style="italic">C3orf58</tspan>-/- resc.3MUT</text>
<line x1="640.48" y1="444.40" x2="640.48" y2="448.20" stroke="#111" stroke-width="1.1"/>
<text transform="translate(642.68,452.60) rotate(-45)" font-size="7.2" font-weight="bold" text-anchor="end" fill="#111"><tspan font-style="italic">SLC39A9</tspan>-/-</text>
<line x1="659.42" y1="444.40" x2="659.42" y2="448.20" stroke="#111" stroke-width="1.1"/>
<text transform="translate(661.62,452.60) rotate(-45)" font-size="7.2" font-weight="bold" text-anchor="end" fill="#111">SLC39A9-/- resc.WT</text>
<text transform="translate(523.70,377.00) rotate(-90) scale(1,1.2)" font-size="8.05" font-weight="bold" text-anchor="middle" fill="#111"><tspan font-weight="normal">&#916;</tspan>UA2S-GlcNS per mg protein</text>
<path d="M60.80,295.40 V270.20 H134.10 V295.40" fill="none" stroke="#333" stroke-width="1.1"/>
<text x="95.60" y="266.80" font-size="9.7" font-weight="normal" font-style="normal" text-anchor="middle" fill="#222" >p=0.198</text>
<path d="M79.30,295.40 V290.30 H97.30 V295.40" fill="none" stroke="#333" stroke-width="1.1"/>
<text x="88.50" y="290.02" font-size="11.5" font-weight="bold" font-style="normal" text-anchor="middle" fill="#111" letter-spacing="0.4">***</text>
<path d="M60.80,370.00 V310.40 H77.60 V315.30" fill="none" stroke="#333" stroke-width="1.1"/>
<text x="69.00" y="309.72" font-size="11.5" font-weight="bold" font-style="normal" text-anchor="middle" fill="#111" letter-spacing="0.4">**</text>
<path d="M81.40,315.30 V310.40 H115.90 V376.00" fill="none" stroke="#333" stroke-width="1.1"/>
<text x="98.70" y="309.72" font-size="11.5" font-weight="bold" font-style="normal" text-anchor="middle" fill="#111" letter-spacing="0.4">***</text>
<path d="M134.10,387.00 V310.40 H152.30 V337.50" fill="none" stroke="#333" stroke-width="1.1"/>
<text x="143.40" y="309.72" font-size="11.5" font-weight="bold" font-style="normal" text-anchor="middle" fill="#111" letter-spacing="0.4">**</text>
<path d="M228.40,306.90 V297.80 H301.00 V384.00" fill="none" stroke="#333" stroke-width="1.1"/>
<text x="264.80" y="299.41" font-size="10.5" font-weight="normal" font-style="normal" text-anchor="middle" fill="#1a1a1a" letter-spacing="0.2">**</text>
<path d="M228.40,366.50 V311.80 H247.40 V320.90" fill="none" stroke="#333" stroke-width="1.1"/>
<text x="238.10" y="313.91" font-size="10.5" font-weight="normal" font-style="normal" text-anchor="middle" fill="#1a1a1a" letter-spacing="0.2">****</text>
<path d="M247.40,332.30 V325.80 H277.10 V358.60" fill="none" stroke="#333" stroke-width="1.1"/>
<line x1="264.00" y1="358.60" x2="289.70" y2="358.60" stroke="#333" stroke-width="1.1"/>
<text x="262.30" y="328.11" font-size="10.5" font-weight="normal" font-style="normal" text-anchor="middle" fill="#1a1a1a" letter-spacing="0.2">****</text>
<path d="M304.30,379.20 V342.70 H322.90 V353.70" fill="none" stroke="#333" stroke-width="1.1"/>
<text x="313.70" y="345.01" font-size="10.5" font-weight="normal" font-style="normal" text-anchor="middle" fill="#1a1a1a" letter-spacing="0.2">****</text>
<path d="M398.70,305.50 V297.70 H471.70 V394.30" fill="none" stroke="#333" stroke-width="1.1"/>
<text x="435.30" y="299.21" font-size="10.5" font-weight="normal" font-style="normal" text-anchor="middle" fill="#1a1a1a" letter-spacing="0.2">***</text>
<path d="M399.10,372.00 V311.60 H418.40 V320.00" fill="none" stroke="#333" stroke-width="1.1"/>
<text x="409.10" y="313.61" font-size="10.5" font-weight="normal" font-style="normal" text-anchor="middle" fill="#1a1a1a" letter-spacing="0.2">****</text>
<path d="M418.40,328.30 V323.30 H447.70 V384.00" fill="none" stroke="#333" stroke-width="1.1"/>
<line x1="434.40" y1="384.00" x2="460.50" y2="384.00" stroke="#333" stroke-width="1.1"/>
<text x="432.10" y="325.31" font-size="10.5" font-weight="normal" font-style="normal" text-anchor="middle" fill="#1a1a1a" letter-spacing="0.2">****</text>
<path d="M473.80,390.50 V330.60 H492.50 V337.10" fill="none" stroke="#333" stroke-width="1.1"/>
<text x="483.30" y="333.01" font-size="10.5" font-weight="normal" font-style="normal" text-anchor="middle" fill="#1a1a1a" letter-spacing="0.2">****</text>
<path d="M564.30,308.70 V297.70 H638.50 V425.80" fill="none" stroke="#333" stroke-width="1.1"/>
<text x="602.40" y="299.21" font-size="10.5" font-weight="normal" font-style="normal" text-anchor="middle" fill="#1a1a1a" letter-spacing="0.2">**</text>
<path d="M583.30,316.20 V310.20 H622.80 V408.40" fill="none" stroke="#333" stroke-width="1.1"/>
<text x="601.80" y="312.01" font-size="10.5" font-weight="normal" font-style="normal" text-anchor="middle" fill="#1a1a1a" letter-spacing="0.2">***</text>
<path d="M562.50,361.50 V322.60 H578.00 V329.20" fill="none" stroke="#333" stroke-width="1.1"/>
<text x="570.80" y="320.20" font-size="8.4" font-weight="normal" font-style="normal" text-anchor="middle" fill="#111" stroke="#111" stroke-width="0.3">ns</text>
<path d="M584.20,329.00 V322.60 H602.50 V422.70" fill="none" stroke="#333" stroke-width="1.1"/>
<text x="593.40" y="324.41" font-size="10.5" font-weight="normal" font-style="normal" text-anchor="middle" fill="#1a1a1a" letter-spacing="0.2">****</text>
<path d="M640.40,422.70 V352.20 H659.40 V357.30" fill="none" stroke="#333" stroke-width="1.1"/>
<text x="650.10" y="354.31" font-size="10.5" font-weight="normal" font-style="normal" text-anchor="middle" fill="#1a1a1a" letter-spacing="0.2">**</text>
<path d="M239.05,267.90 L247.70,259.20 L256.35,267.90 Z" fill="#4565db"/>
<path d="M239.05,267.90 L247.70,259.20 L256.35,267.90 L247.70,276.60 Z" fill="none" stroke="#23479a" stroke-width="1.2"/>
<line x1="239.05" y1="267.90" x2="256.35" y2="267.90" stroke="#23479a" stroke-width="1.3"/>
<line x1="236.45" y1="266.50" x2="246.30" y2="256.60" stroke="#111" stroke-width="1.3"/>
<line x1="256.35" y1="267.90" x2="264.20" y2="267.90" stroke="#222" stroke-width="1.1"/>
<path d="M264.20,259.20 L281.90,259.20 L281.90,276.60 Z" fill="#4565db"/>
<rect x="264.20" y="259.20" width="17.70" height="17.40" fill="none" stroke="#23479a" stroke-width="1.3"/>
<line x1="264.20" y1="259.20" x2="281.90" y2="276.60" stroke="#23479a" stroke-width="1.3"/>
<text x="265.60" y="286.10" font-size="10.2" font-weight="normal" font-style="normal" text-anchor="start" fill="#151515" textLength="18.80" lengthAdjust="spacingAndGlyphs">NAc</text>
<path d="M414.25,267.90 L422.90,259.20 L431.55,267.90 Z" fill="#4565db"/>
<path d="M414.25,267.90 L422.90,259.20 L431.55,267.90 L422.90,276.60 Z" fill="none" stroke="#23479a" stroke-width="1.2"/>
<line x1="414.25" y1="267.90" x2="431.55" y2="267.90" stroke="#23479a" stroke-width="1.3"/>
<line x1="411.65" y1="266.50" x2="421.50" y2="256.60" stroke="#111" stroke-width="1.3"/>
<line x1="431.55" y1="267.90" x2="439.30" y2="267.90" stroke="#222" stroke-width="1.1"/>
<path d="M439.30,259.20 L457.20,259.20 L457.20,276.60 Z" fill="#4565db"/>
<rect x="439.30" y="259.20" width="17.90" height="17.40" fill="none" stroke="#23479a" stroke-width="1.3"/>
<line x1="439.30" y1="259.20" x2="457.20" y2="276.60" stroke="#23479a" stroke-width="1.3"/>
<text x="443.00" y="287.80" font-size="10.2" font-weight="normal" font-style="normal" text-anchor="start" fill="#151515" textLength="12.00" lengthAdjust="spacingAndGlyphs">NS</text>
<path d="M576.75,267.90 L585.40,259.20 L594.05,267.90 Z" fill="#4565db"/>
<path d="M576.75,267.90 L585.40,259.20 L594.05,267.90 L585.40,276.60 Z" fill="none" stroke="#23479a" stroke-width="1.2"/>
<line x1="576.75" y1="267.90" x2="594.05" y2="267.90" stroke="#23479a" stroke-width="1.3"/>
<line x1="574.15" y1="266.50" x2="584.00" y2="256.60" stroke="#111" stroke-width="1.3"/>
<line x1="594.05" y1="267.90" x2="602.20" y2="267.90" stroke="#222" stroke-width="1.1"/>
<path d="M602.20,259.20 L619.70,259.20 L619.70,276.60 Z" fill="#4565db"/>
<rect x="602.20" y="259.20" width="17.50" height="17.40" fill="none" stroke="#23479a" stroke-width="1.3"/>
<line x1="602.20" y1="259.20" x2="619.70" y2="276.60" stroke="#23479a" stroke-width="1.3"/>
<text x="605.90" y="287.70" font-size="10.2" font-weight="normal" font-style="normal" text-anchor="start" fill="#151515" textLength="11.70" lengthAdjust="spacingAndGlyphs">NS</text>
<text x="580.00" y="287.60" font-size="10.2" font-weight="normal" font-style="normal" text-anchor="start" fill="#151515" textLength="10.80" lengthAdjust="spacingAndGlyphs">2S</text>
</svg></body></html>
